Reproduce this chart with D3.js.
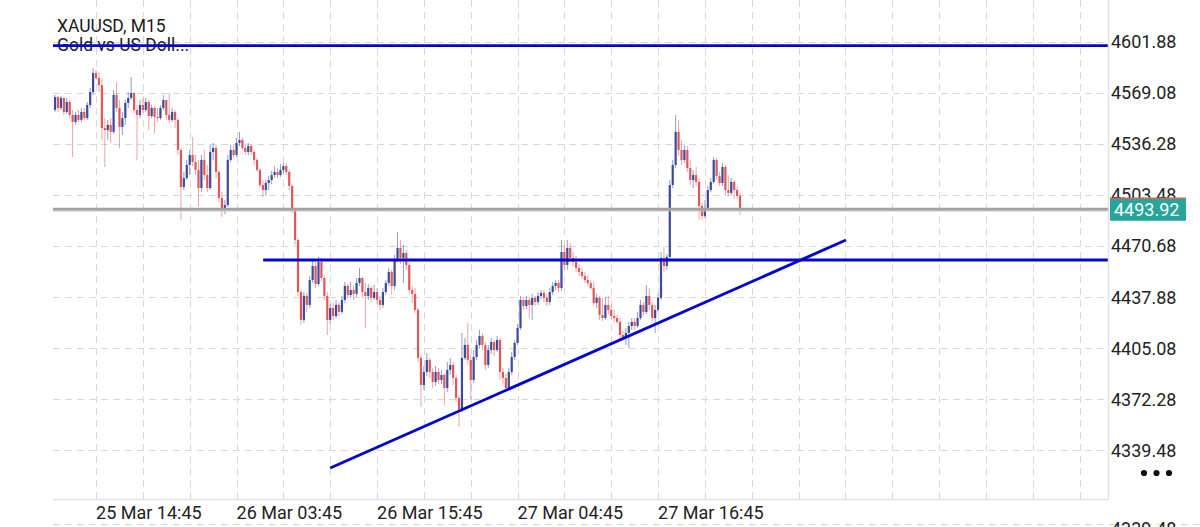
<!DOCTYPE html>
<html><head><meta charset="utf-8">
<script src="https://cdn.jsdelivr.net/npm/d3@7"></script>
<style>html,body{margin:0;padding:0;background:#fff;overflow:hidden}svg{display:block}</style>
</head><body><svg id="c" width="1200" height="527"></svg>
<script>
const symbolTitle = "XAUUSD, M15";
const symbolDesc = "Gold vs US Doll...";
const firstOpen = 4558.0;
const closes = [
4566.3,4559.3,4565.7,4556.7,4563.1,4554.8,4550.3,4554.8,4551.6,4556.7,
4552.8,4561.2,4569.5,4581.7,4578.5,4574.0,4546.4,4545.1,4548.4,4543.9,
4567.6,4559.3,4547.1,4552.8,4562.5,4565.7,4568.9,4558.0,4554.8,4561.2,
4558.0,4563.1,4554.1,4559.3,4553.5,4552.8,4559.3,4564.4,4554.8,4551.6,
4556.7,4551.6,4532.3,4508.5,4514.3,4522.7,4529.1,4524.6,4519.5,4507.9,
4525.9,4516.2,4507.9,4531.0,4533.6,4518.2,4501.5,4493.8,4497.0,4525.9,
4532.3,4529.1,4536.8,4538.7,4533.6,4531.0,4534.9,4531.0,4525.9,4519.5,
4509.8,4506.6,4511.1,4513.0,4516.2,4518.2,4516.2,4519.5,4522.0,4518.2,
4509.2,4493.8,4474.5,4441.1,4423.2,4438.6,4432.8,4448.8,4457.8,4446.3,
4460.4,4450.1,4438.6,4423.2,4430.9,4425.7,4432.8,4428.3,4436.0,4445.0,
4439.2,4442.4,4439.9,4446.9,4450.1,4441.1,4438.6,4443.7,4437.3,4441.1,
4436.0,4432.8,4441.1,4446.9,4454.0,4445.0,4461.7,4469.4,4463.0,4466.2,
4458.5,4442.4,4439.9,4429.6,4398.8,4381.4,4389.8,4397.5,4389.8,4383.4,
4389.8,4384.6,4387.9,4379.5,4391.1,4394.3,4385.9,4373.1,4365.4,4398.8,
4407.1,4397.5,4384.6,4399.4,4407.1,4412.9,4407.1,4394.3,4403.9,4409.0,
4403.9,4410.3,4389.8,4385.9,4379.5,4389.8,4399.4,4408.4,4418.0,4436.0,
4432.1,4436.0,4432.8,4437.3,4434.7,4438.6,4440.5,4437.3,4434.7,4441.1,
4445.0,4446.9,4443.7,4466.8,4458.5,4469.4,4463.0,4460.4,4456.5,4454.0,
4451.4,4448.8,4446.9,4443.7,4434.1,4437.3,4426.4,4424.4,4432.8,4429.6,
4425.7,4424.4,4421.9,4413.5,4411.6,4414.8,4419.3,4421.9,4419.3,4424.4,
4432.8,4428.3,4438.6,4432.8,4424.4,4429.6,4437.3,4463.0,4457.8,4463.6,
4509.8,4522.7,4543.9,4532.3,4525.9,4532.3,4520.7,4513.0,4516.2,4511.8,
4496.4,4489.9,4495.1,4506.6,4511.8,4525.9,4515.6,4511.1,4521.4,4506.6,
4504.7,4511.8,4506.6,4502.8,4493.92];
const highs = [
4567.6,4567.0,4567.0,4566.3,4565.7,4564.4,4558.0,4556.7,4558.0,4559.3,
4559.3,4563.1,4572.1,4584.9,4583.7,4582.4,4578.5,4552.8,4551.6,4552.8,
4570.8,4576.0,4564.4,4556.7,4564.4,4569.5,4579.2,4569.5,4561.2,4564.4,
4565.7,4565.7,4564.4,4561.2,4560.6,4559.3,4561.2,4567.6,4564.4,4568.9,
4559.3,4558.0,4552.8,4533.6,4518.2,4525.9,4532.3,4540.6,4529.1,4525.9,
4529.1,4532.3,4522.7,4535.5,4536.8,4535.5,4519.5,4505.3,4500.2,4529.1,
4535.5,4535.5,4540.0,4543.9,4540.0,4535.5,4536.8,4536.1,4532.3,4527.2,
4520.7,4513.0,4513.0,4515.6,4518.8,4522.0,4520.7,4523.3,4524.0,4524.0,
4519.5,4510.5,4495.1,4475.8,4442.4,4441.1,4440.5,4451.4,4461.7,4460.4,
4463.6,4463.0,4452.0,4441.1,4433.4,4434.1,4436.0,4434.7,4438.6,4447.6,
4446.3,4447.6,4445.0,4450.1,4456.5,4450.8,4446.9,4446.3,4445.0,4445.6,
4443.7,4438.6,4443.7,4448.8,4456.5,4455.3,4464.9,4479.7,4474.5,4471.3,
4468.1,4460.4,4445.0,4443.7,4430.9,4400.7,4393.6,4402.0,4398.8,4392.3,
4393.6,4392.3,4391.1,4388.5,4396.2,4398.8,4396.2,4387.9,4375.0,4414.8,
4411.6,4421.2,4400.7,4403.9,4410.3,4416.7,4414.8,4409.0,4407.1,4411.6,
4410.3,4412.9,4411.6,4392.3,4388.5,4392.3,4402.6,4410.3,4420.6,4438.6,
4437.3,4438.6,4437.9,4439.9,4438.6,4441.1,4442.4,4442.4,4439.9,4443.7,
4447.6,4448.8,4448.8,4474.5,4471.3,4474.5,4472.6,4466.8,4464.3,4459.1,
4456.5,4454.0,4452.0,4448.8,4447.6,4439.9,4438.6,4437.3,4437.9,4438.6,
4432.8,4429.6,4426.4,4424.4,4416.7,4418.0,4421.9,4424.4,4424.4,4428.3,
4436.0,4434.7,4445.6,4443.7,4434.7,4432.8,4439.9,4466.8,4470.0,4465.5,
4513.0,4525.9,4554.8,4551.6,4538.7,4535.5,4534.9,4525.9,4519.5,4521.4,
4514.3,4498.3,4500.2,4509.2,4514.3,4527.8,4527.2,4518.2,4524.0,4522.7,
4516.2,4514.3,4513.0,4509.2,4504.7];
const lows = [
4556.7,4556.7,4558.0,4554.8,4555.4,4552.8,4527.8,4548.4,4550.3,4550.3,
4551.6,4551.6,4559.3,4567.6,4577.2,4569.5,4538.7,4521.4,4538.7,4536.8,
4542.6,4556.7,4533.6,4541.9,4548.4,4559.3,4564.4,4556.1,4525.9,4552.8,
4556.1,4556.7,4545.1,4552.8,4543.2,4550.3,4551.6,4558.0,4551.6,4549.6,
4550.3,4546.4,4529.1,4487.4,4506.6,4513.0,4516.2,4522.0,4516.2,4495.7,
4505.3,4513.0,4505.3,4506.6,4525.9,4514.3,4498.9,4489.3,4491.2,4495.7,
4524.6,4527.2,4527.8,4534.9,4532.3,4529.1,4529.1,4529.1,4522.7,4518.2,
4507.9,4502.1,4502.8,4506.6,4510.5,4514.3,4514.3,4515.0,4517.5,4516.2,
4506.6,4491.9,4471.3,4438.6,4420.0,4421.2,4428.3,4430.9,4446.9,4443.7,
4445.0,4447.6,4436.0,4413.5,4420.6,4423.2,4424.4,4425.7,4427.0,4434.1,
4437.3,4437.3,4436.0,4437.9,4445.0,4437.3,4418.0,4436.0,4434.7,4436.0,
4433.4,4429.6,4430.9,4439.2,4445.0,4439.2,4442.4,4460.4,4459.1,4446.9,
4455.3,4439.9,4434.1,4427.7,4396.2,4367.3,4378.2,4387.2,4385.9,4379.5,
4380.8,4382.1,4382.1,4368.6,4376.9,4387.9,4381.4,4370.5,4354.5,4364.1,
4397.5,4394.3,4371.8,4382.7,4397.5,4405.2,4403.9,4391.1,4392.3,4401.3,
4400.1,4402.6,4384.6,4382.1,4376.9,4378.2,4387.9,4397.5,4407.1,4416.7,
4429.6,4430.2,4424.4,4423.2,4432.1,4432.8,4436.6,4434.7,4432.1,4432.8,
4439.2,4442.4,4441.1,4441.8,4455.3,4455.3,4460.4,4457.8,4454.0,4451.4,
4449.5,4446.9,4445.0,4442.4,4432.1,4430.9,4423.2,4422.5,4423.2,4427.0,
4423.2,4421.9,4420.6,4411.6,4410.3,4407.1,4405.2,4416.7,4416.7,4418.0,
4423.2,4425.7,4427.0,4429.6,4421.9,4414.8,4428.3,4436.0,4454.0,4455.3,
4461.7,4507.9,4520.7,4528.4,4522.7,4524.0,4518.2,4509.8,4507.9,4509.2,
4487.4,4487.4,4488.6,4493.8,4505.3,4510.5,4513.0,4509.2,4509.2,4503.4,
4502.8,4503.4,4500.8,4500.8,4490.6];
const priceTicks = [4601.88,4569.08,4536.28,4503.48,4470.68,4437.88,4405.08,4372.28,4339.48];
const timeTickIndex = [14,62,110,158,206];
const timeTickLabels = ["25 Mar 14:45","26 Mar 03:45","26 Mar 15:45","27 Mar 04:45","27 Mar 16:45"];
const lastPrice = 4493.92;
const levelLines = [{from:-0.7,to:359.7,price:4599.3},{from:71.1,to:359.7,price:4461.7}];
const trendLine = [{i:94,p:4328.1},{i:270.2,p:4474.5}];
const nextPaneLabel = "4339.48";

const L = 53, R = 1108, T = 0, B = 499;
const svg = d3.select("#c");
const font = "Roboto, 'Noto Sans', sans-serif";
const x = d3.scaleLinear().domain([-0.7, 359.7]).range([L, R]);
const y = d3.scaleLinear().domain([4308.2, 4628.6]).range([B, T]);

const candles = closes.map((c, i) => ({
  i, o: i === 0 ? firstOpen : closes[i - 1], c, h: highs[i], l: lows[i]
}));

// grid
const grid = svg.append("g").attr("stroke", "#d9d9d9").attr("stroke-width", 1).attr("stroke-dasharray", "7,5");
grid.selectAll("line.h").data(priceTicks).join("line").attr("class","h")
  .attr("x1", L).attr("x2", R).attr("y1", d => Math.round(y(d)) + 0.5).attr("y2", d => Math.round(y(d)) + 0.5);
grid.selectAll("line.v").data(d3.range(14, 360, 16)).join("line").attr("class","v")
  .attr("x1", d => Math.round(x(d)) + 0.5).attr("x2", d => Math.round(x(d)) + 0.5).attr("y1", T).attr("y2", B);

// lower pane remnant
svg.append("line").attr("x1", L).attr("x2", 1200).attr("y1", 524.5).attr("y2", 524.5)
  .attr("stroke", "#d9d9d9").attr("stroke-dasharray", "7,5");
svg.append("text").attr("x", 1111).attr("y", 535).attr("font-family", font).attr("font-size", 18)
  .attr("fill", "#222").text(nextPaneLabel);

// title
svg.append("text").attr("x", 57).attr("y", 31.5).attr("font-family", font).attr("font-size", 17.5)
  .attr("fill", "#1a1a1a").text(symbolTitle);
svg.append("text").attr("x", 57).attr("y", 51).attr("font-family", font).attr("font-size", 17.5)
  .attr("fill", "#1a1a1a").text(symbolDesc);

// candles
const bull = "#3a4a9f", bear = "#e0575a";
const cg = svg.append("g");
cg.selectAll("line.w").data(candles).join("line").attr("class","w")
  .attr("x1", d => x(d.i)).attr("x2", d => x(d.i))
  .attr("y1", d => y(Math.max(d.h, d.o, d.c))).attr("y2", d => y(Math.min(d.l, d.o, d.c)))
  .attr("stroke", d => d.c >= d.o ? bull : bear).attr("stroke-opacity", 0.55).attr("stroke-width", 1);
cg.selectAll("rect").data(candles).join("rect")
  .attr("x", d => x(d.i) - 1.1).attr("width", 2.2)
  .attr("y", d => y(Math.max(d.o, d.c)))
  .attr("height", d => Math.max(1, Math.abs(y(d.o) - y(d.c))))
  .attr("fill", d => d.c >= d.o ? bull : bear);

// last price line
svg.append("line").attr("x1", L).attr("x2", R).attr("y1", y(lastPrice) - 0.5).attr("y2", y(lastPrice) - 0.5)
  .attr("stroke", "#ad9d9d").attr("stroke-width", 2.8);
svg.append("line").attr("x1", L).attr("x2", R).attr("y1", y(lastPrice) + 1.4).attr("y2", y(lastPrice) + 1.4)
  .attr("stroke", "#9fd6cf").attr("stroke-width", 0.8);

// blue drawing lines
const blue = "#0505d0";
svg.selectAll("line.lvl").data(levelLines).join("line").attr("class","lvl")
  .attr("x1", d => x(d.from)).attr("x2", d => x(d.to)).attr("y1", d => y(d.price)).attr("y2", d => y(d.price))
  .attr("stroke", blue).attr("stroke-width", 2.9);
svg.append("path").datum(trendLine)
  .attr("d", d3.line().x(d => x(d.i)).y(d => y(d.p)))
  .attr("stroke", blue).attr("stroke-width", 2.9).attr("fill", "none");

// borders
svg.append("line").attr("x1", L).attr("x2", R + 0.5).attr("y1", B + 0.5).attr("y2", B + 0.5).attr("stroke", "#e2e2e2").attr("stroke-width", 1.5);
svg.append("line").attr("x1", R + 0.5).attr("x2", R + 0.5).attr("y1", T).attr("y2", B + 0.5).attr("stroke", "#e2e2e2").attr("stroke-width", 1.5);

// price axis
svg.selectAll("text.py").data(priceTicks).join("text").attr("class","py")
  .attr("x", 1111).attr("y", d => y(d)).attr("dy", "0.36em")
  .attr("font-family", font).attr("font-size", 18).attr("fill", "#222")
  .text(d => d3.format(".2f")(d));

// last price tag
const ty = y(lastPrice);
svg.append("rect").attr("x", 1110).attr("y", ty - 11.5).attr("width", 76).attr("height", 22.5).attr("fill", "#26a69a");
svg.append("line").attr("x1", 1110).attr("x2", 1186).attr("y1", ty - 11.5).attr("y2", ty - 11.5).attr("stroke", "#e06060").attr("stroke-width", 1.5);
svg.append("text").attr("x", 1114).attr("y", ty).attr("dy", "0.36em").attr("font-family", font)
  .attr("font-size", 18).attr("fill", "#fff").text(d3.format(".2f")(lastPrice));

// time axis
svg.selectAll("text.tx").data(timeTickIndex).join("text").attr("class","tx")
  .attr("x", d => x(d)).attr("y", 519).attr("font-family", font).attr("font-size", 18).attr("fill", "#222")
  .text((d, k) => timeTickLabels[k]);

// menu dots
svg.selectAll("circle.dot").data([0, 1, 2]).join("circle").attr("class","dot")
  .attr("cx", d => 1144 + d * 12.5).attr("cy", 473).attr("r", 3.1).attr("fill", "#111");
</script></body></html>
